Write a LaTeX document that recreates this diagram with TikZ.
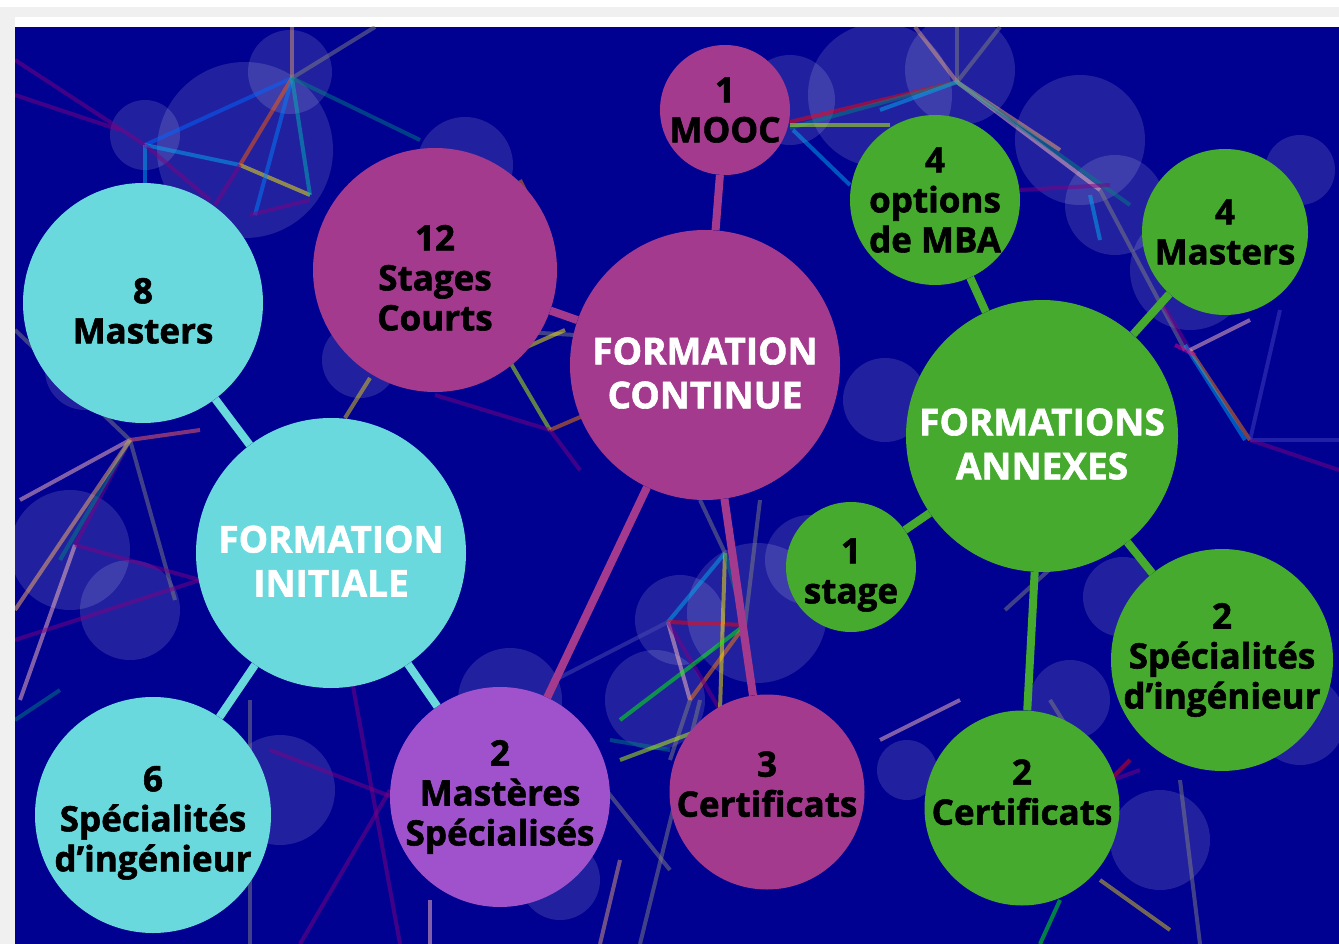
\documentclass[tikz,border=0pt]{standalone}
\usepackage{fontspec}
\setmainfont{Open Sans}[BoldFeatures={FakeBold=1.6}]
\usepackage{xcolor}

\definecolor{nightblue}{RGB}{0,0,145}
\definecolor{initcyan}{RGB}{106,217,221}
\definecolor{contmag}{RGB}{164,58,142}
\definecolor{mspurple}{RGB}{160,82,204}
\definecolor{annexgreen}{RGB}{69,170,46}
\definecolor{framegray}{RGB}{240,240,240}
\newcommand{\toprule}[1]{\rule{0pt}{#1}}
\newcommand{\botrule}[1]{\rule[-#1]{0pt}{0pt}}

\begin{document}
\begin{tikzpicture}[x=1pt, y=-1pt,
    bubble/.style={circle, inner sep=-30pt, align=center, text=black, font=\bfseries\fontsize{35}{40}\selectfont},
    hub/.style={bubble, text=white, font=\bfseries\fontsize{37}{44}\selectfont},
    link/.style={line width=8pt},
    haze/.style={fill=white, fill opacity=0.13},
    web/.style={line width=4pt, opacity=0.5}
]
\useasboundingbox (0,0) rectangle (1339,944);
\fill[white] (0,0) rectangle (1339,944);
\fill[framegray] (0,7) rectangle (1339,944);
\fill[white] (15,17) rectangle (1339,27);
\fill[nightblue] (15,27) rectangle (1339,944);

\begin{scope}
\clip (15,27) rectangle (1339,944);
% halo circles
\foreach \cx/\cy/\r in {290/72/42, 245/150/88, 145/135/35, 465/165/48, 360/360/38,
    790/100/45, 880/95/72, 960/70/55, 1080/140/65, 1115/205/50, 1300/170/35,
    1190/270/60, 885/400/42, 810/560/45, 1123/597/40, 1070/700/40, 907/770/30,
    757/613/70, 680/620/45, 655/700/50, 510/700/52, 70/550/60, 130/610/50,
    85/370/40, 280/790/55, 1160/840/50, 1300/720/45, 560/880/40}
  \fill[haze] (\cx,\cy) circle (\r);
% colour web
\foreach \ax/\ay/\bx/\by/\col in {
    15/60/145/145/violet, 15/95/120/130/violet, 145/145/292/78/blue!60!cyan,
    145/145/240/165/cyan, 240/165/310/195/yellow, 145/145/145/190/cyan,
    145/145/210/200/violet, 292/78/292/27/brown!60!pink, 292/78/375/27/gray,
    292/78/240/165/orange!70!red, 292/78/255/215/blue!50!cyan, 292/78/310/195/teal!60!cyan,
    292/78/420/140/teal, 240/165/215/205/violet, 250/215/310/200/violet,
    130/440/20/500/pink, 130/440/75/545/violet, 130/440/175/600/gray,
    130/440/60/560/teal, 15/610/130/440/orange!60, 75/545/20/700/pink,
    75/545/200/580/violet, 15/640/200/580/violet, 15/330/130/440/gray,
    15/720/60/690/teal, 130/440/200/430/red!60,
    370/378/345/418/brown!40!yellow, 550/430/500/345/lime, 550/430/435/395/violet,
    550/430/585/415/orange, 550/430/580/470/violet, 490/330/575/335/gray,
    520/350/565/330/yellow, 520/180/530/200/orange,
    668/622/725/553/cyan, 668/622/745/625/red, 668/622/690/700/pink,
    745/625/690/700/orange, 668/622/720/710/violet, 725/553/720/710/yellow,
    725/553/700/500/gray, 725/553/745/625/teal, 620/720/745/625/green,
    668/622/555/680/blue!40!gray, 690/700/670/760/gray, 610/740/670/750/teal,
    620/760/700/730/lime, 590/770/670/870/gray, 620/860/600/944/brown!50!pink,
    745/625/760/500/gray, 700/700/640/944/gray,
    957/82/790/122/red, 957/82/790/128/teal, 790/125/890/125/lime,
    793/130/850/185/cyan, 957/82/957/27/gray, 957/82/915/27/brown!50!pink,
    957/82/1000/27/gray, 957/82/1060/150/orange!60, 957/82/1100/190/pink,
    957/82/1130/205/teal, 1090/195/1100/240/cyan, 1020/190/1110/185/violet,
    957/82/880/110/cyan, 1100/190/1185/350/gray,
    1160/300/1190/350/violet, 1190/350/1250/440/orange, 1185/345/1245/440/cyan,
    1190/350/1250/320/pink, 1250/440/1339/440/blue!50!gray, 1250/440/1280/310/blue!50!gray,
    1250/440/1339/470/violet, 1175/345/1195/355/magenta,
    1050/700/1100/780/gray, 1090/800/1130/760/red, 1085/790/1140/770/violet,
    1100/880/1170/930/brown!40!yellow, 1180/780/1200/944/gray, 1060/900/1040/944/green,
    1005/610/1060/560/gray, 880/740/960/700/pink,
    270/750/400/800/violet, 430/900/430/944/pink, 390/790/300/944/violet,
    250/700/250/944/gray, 350/670/400/944/violet}
  \draw[web, \col] (\ax,\ay) -- (\bx,\by);
\end{scope}

\node[bubble, fill=initcyan, minimum size=240pt] (masters8) at (143,303) {\toprule{41pt}8\\Masters};
\node[bubble, fill=contmag, minimum size=244pt] (stages) at (435,270) {\toprule{41pt}12\\Stages\\Courts};
\node[bubble, fill=contmag, minimum size=130pt] (mooc) at (725,110) {1\\MOOC};
\node[hub, fill=contmag, minimum size=270pt] (continue) at (705,365) {\toprule{43pt}FORMATION\\CONTINUE};
\node[bubble, fill=annexgreen, minimum size=170pt] (mba) at (935,200) {4\\options\\de MBA};
\node[bubble, fill=annexgreen, minimum size=166pt] (masters4) at (1225,232) {4\\Masters};
\node[hub, fill=annexgreen, minimum size=272pt] (annexes) at (1042,436) {\toprule{43pt}FORMATIONS\\ANNEXES};
\node[bubble, fill=annexgreen, minimum size=130pt] (stage) at (851,567) {\toprule{41pt}1\\stage};
\node[hub, fill=initcyan, minimum size=270pt] (initiale) at (331,553) {\toprule{43pt}FORMATION\\INITIALE};
\node[bubble, fill=initcyan, minimum size=236pt] (spec6) at (153,815) {\toprule{41pt}6\\Spécialités\\d’ingénieur};
\node[bubble, fill=mspurple, minimum size=220pt] (mastspec) at (500,797) {2\\Mastères\\Spécialisés};
\node[bubble, fill=contmag, minimum size=195pt] (cert3) at (767,792) {3\\Certificats\botrule{16pt}};
\node[bubble, fill=annexgreen, minimum size=222pt] (spec2) at (1222,660) {2\\Spécialités\\d’ingénieur};
\node[bubble, fill=annexgreen, minimum size=195pt] (cert2) at (1022,808) {2\\Certificats\botrule{32pt}};

\draw[link, initcyan] (initiale) -- (masters8);
\draw[link, initcyan] (initiale) -- (spec6);
\draw[link, initcyan] (initiale) -- (mastspec);
\draw[link, contmag] (continue) -- (mooc);
\draw[link, contmag] (continue) -- (stages);
\draw[link, contmag] (continue) -- (mastspec);
\draw[link, contmag] (continue) -- (cert3);
\draw[link, annexgreen] (annexes) -- (mba);
\draw[link, annexgreen] (annexes) -- (masters4);
\draw[link, annexgreen] (annexes) -- (stage);
\draw[link, annexgreen] (annexes) -- (spec2);
\draw[link, annexgreen] (annexes) -- (cert2);
\end{tikzpicture}
\end{document}
